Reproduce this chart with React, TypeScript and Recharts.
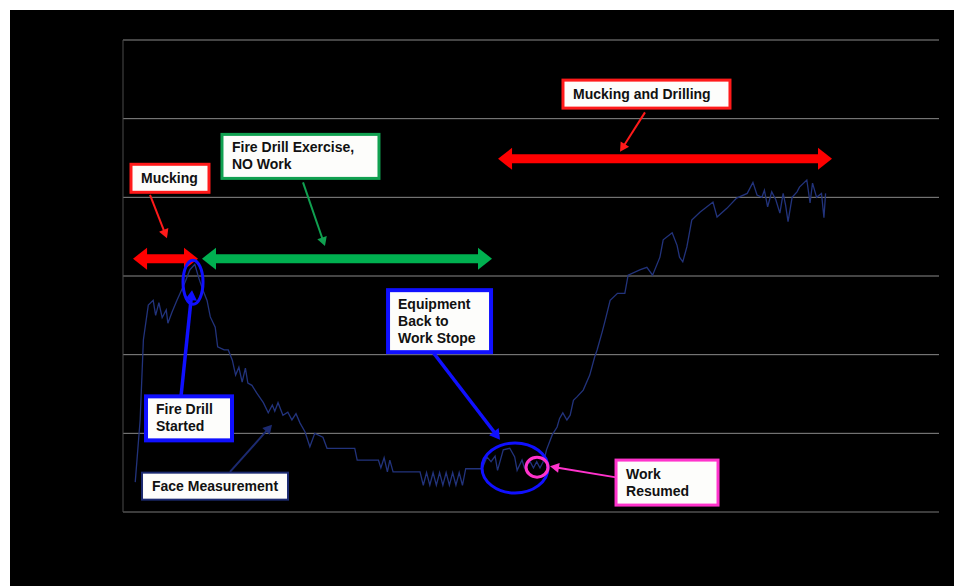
import { LineChart, Line, XAxis, YAxis, CartesianGrid, ReferenceLine, ReferenceDot } from 'recharts'

// time (arbitrary units 0-100) and reading (arbitrary 0-6)
const times = [
  1.5, 2.1, 2.5, 3.1, 3.7, 4.0, 4.4, 4.8, 5.3, 5.5, 6.0, 6.6, 7.0, 7.6, 8.2, 8.8, 9.3, 9.8, 10.3, 10.7,
  11.3, 11.6, 12.4, 12.9, 13.4, 13.8, 14.2, 14.6, 15.0, 15.3, 15.8, 16.4, 17.2, 17.8, 18.3, 18.6, 19.0, 19.6,
  20.2, 20.7, 21.2, 21.7, 22.3, 22.9, 23.5, 24.5, 25.0, 28.4, 28.7, 31.3, 31.6, 32.0, 32.4, 32.7, 33.1, 36.4,
  36.8, 37.2, 37.6, 38.0, 38.4, 38.8, 39.2, 39.6, 40.0, 40.4, 40.8, 41.2, 41.6, 42.0, 44.0,
  44.6, 45.1, 45.6, 45.9, 46.6, 47.4, 48.0, 48.3, 48.9, 49.2, 49.9, 50.3, 50.7, 51.1, 51.6, 51.9, 52.6, 53.2,
  53.5, 53.9, 54.4, 54.8, 55.2, 55.6, 56.4, 57.2, 57.8, 58.1, 58.7, 59.1, 59.7, 60.6, 61.5, 61.9, 63.4, 64.2,
  64.9, 65.8, 66.2, 67.3, 67.9, 68.2, 68.6, 69.1, 69.7, 70.7, 72.3, 72.8, 74.0, 75.2, 76.5, 77.2, 77.7, 78.3,
  78.6, 79.0, 79.5, 80.0, 80.5, 80.9, 81.2, 81.5, 82.0, 82.6, 82.9, 83.8, 84.2, 84.5, 85.0, 85.6, 85.9, 86.1,
]
const readings = [
  0.38, 1.17, 2.19, 2.63, 2.69, 2.5, 2.66, 2.47, 2.57, 2.4, 2.54, 2.69, 2.78, 2.92, 3.08, 3.15, 2.97, 2.82, 2.69, 2.48,
  2.35, 2.1, 2.06, 2.06, 1.93, 1.74, 1.84, 1.65, 1.83, 1.64, 1.61, 1.51, 1.39, 1.26, 1.36, 1.28, 1.39, 1.23,
  1.27, 1.17, 1.25, 1.13, 1.02, 0.83, 1.0, 0.95, 0.81, 0.81, 0.66, 0.66, 0.56, 0.69, 0.51, 0.66, 0.51, 0.51,
  0.34, 0.5, 0.34, 0.5, 0.34, 0.5, 0.34, 0.5, 0.34, 0.5, 0.34, 0.5, 0.34, 0.55, 0.55,
  0.7, 0.64, 0.71, 0.53, 0.79, 0.81, 0.7, 0.53, 0.66, 0.56, 0.64, 0.56, 0.64, 0.56, 0.66, 0.79, 0.98, 1.08,
  1.19, 1.26, 1.17, 1.23, 1.42, 1.46, 1.55, 1.74, 1.97, 2.06, 2.28, 2.44, 2.69, 2.78, 2.78, 3.01, 3.08, 3.11,
  3.01, 3.24, 3.46, 3.55, 3.39, 3.24, 3.18, 3.37, 3.71, 3.81, 3.94, 3.75, 3.86, 3.99, 4.05, 4.19, 4.03, 4.0,
  4.09, 3.88, 4.07, 3.97, 3.8, 4.05, 3.9, 3.69, 4.0, 4.07, 4.13, 4.22, 3.93, 4.18, 4.0, 4.05, 3.74, 4.05,
]
const yTicks = [0, 1, 2, 3, 4, 5, 6]

const data = times.map((t, i) => ({ t, v: readings[i] }))

// annotations, anchored in data units
const boxes = [
  { x: 0.98, y: 4.42, w: 78, h: 28, color: '#ff1a1a', bw: 3, lines: ['Mucking'] },
  { x: 12.13, y: 4.8, w: 157, h: 44, color: '#10a050', bw: 3, lines: ['Fire Drill Exercise,', 'NO Work'] },
  { x: 53.92, y: 5.49, w: 167, h: 28, color: '#ff1a1a', bw: 3, lines: ['Mucking and Drilling'] },
  { x: 32.48, y: 2.82, w: 103, h: 62, color: '#1010ff', bw: 4, lines: ['Equipment', 'Back to', 'Work Stope'] },
  { x: 2.82, y: 1.47, w: 86, h: 44, color: '#1010ff', bw: 4, lines: ['Fire Drill', 'Started'] },
  { x: 2.33, y: 0.5, w: 146, h: 27, color: '#1c2a70', bw: 2, lines: ['Face Measurement'] },
  { x: 60.42, y: 0.66, w: 102, h: 45, color: '#ff33cc', bw: 3, lines: ['Work', 'Resumed'] },
]

const arrows = [
  { from: [1.23, 3.22], to: [9.19, 3.22], color: '#ff0000', width: 9, hl: 14, hw: 11, double: true },
  { from: [9.68, 3.22], to: [45.22, 3.22], color: '#00b050', width: 9, hl: 14, hw: 11, double: true },
  { from: [45.96, 4.49], to: [86.89, 4.49], color: '#ff0000', width: 9, hl: 14, hw: 11, double: true },
  { from: [3.31, 4.03], to: [5.39, 3.48], color: '#ff1a1a', width: 2, hl: 9, hw: 5, double: false },
  { from: [22.06, 4.19], to: [24.75, 3.38], color: '#10a050', width: 2, hl: 9, hw: 5, double: false },
  { from: [63.97, 5.08], to: [60.91, 4.58], color: '#ff1a1a', width: 2, hl: 9, hw: 5, double: false },
  { from: [7.11, 1.47], to: [8.46, 2.82], color: '#1010ff', width: 3.5, hl: 10, hw: 6, double: false },
  { from: [13.11, 0.51], to: [18.26, 1.11], color: '#1c2a70', width: 2, hl: 9, hw: 5, double: false },
  { from: [37.99, 2.03], to: [46.2, 0.92], color: '#1010ff', width: 3.5, hl: 10, hw: 6, double: false },
  { from: [60.42, 0.44], to: [52.33, 0.58], color: '#ff33cc', width: 2, hl: 9, hw: 5, double: false },
]

const ellipses = [
  { x: 8.58, y: 2.92, rx: 10, ry: 22, color: '#1010ff' },
  { x: 48.04, y: 0.56, rx: 33, ry: 25, color: '#1010ff' },
  { x: 50.74, y: 0.57, rx: 11, ry: 10, color: '#ff33cc' },
]

const font = '"Liberation Sans", Arial, sans-serif'

const makeBox = (b: (typeof boxes)[number]) => (props: any) => {
  const { cx, cy } = props
  const lh = 17
  const first = (b.h - b.lines.length * lh) / 2 + 13
  return (
    <g>
      <rect x={cx} y={cy} width={b.w} height={b.h} fill="#fdfdfb" stroke={b.color} strokeWidth={b.bw} />
      <text fontFamily={font} fontWeight="bold" fontSize={14} fill="#111">
        {b.lines.map((l, i) => (
          <tspan key={i} x={cx + 10} y={cy + first + i * lh}>
            {l}
          </tspan>
        ))}
      </text>
    </g>
  )
}

const makeArrow = (a: (typeof arrows)[number]) => (props: any) => {
  const { x1, y1, x2, y2 } = props
  const dx = x2 - x1
  const dy = y2 - y1
  const len = Math.hypot(dx, dy) || 1
  const ux = dx / len
  const uy = dy / len
  const nx = -uy
  const ny = ux
  const head = (tx: number, ty: number, dx2: number, dy2: number) => {
    const bx = tx - dx2 * a.hl
    const by = ty - dy2 * a.hl
    return `${tx},${ty} ${bx + nx * a.hw},${by + ny * a.hw} ${bx - nx * a.hw},${by - ny * a.hw}`
  }
  const sx = a.double ? x1 + ux * (a.hl - 1) : x1
  const sy = a.double ? y1 + uy * (a.hl - 1) : y1
  return (
    <g>
      <line x1={sx} y1={sy} x2={x2 - ux * (a.hl - 1)} y2={y2 - uy * (a.hl - 1)} stroke={a.color} strokeWidth={a.width} />
      <polygon points={head(x2, y2, ux, uy)} fill={a.color} />
      {a.double && <polygon points={head(x1, y1, -ux, -uy)} fill={a.color} />}
    </g>
  )
}

const makeEllipse = (e: (typeof ellipses)[number]) => (props: any) => (
  <ellipse cx={props.cx} cy={props.cy} rx={e.rx} ry={e.ry} fill="none" stroke={e.color} strokeWidth={3} />
)

export default function App() {
  return (
    <div style={{ padding: '10px 0 0 10px' }}>
      <style>{'body{margin:0;overflow:hidden;background:#fff}'}</style>
      <div style={{ width: 944, height: 576, background: '#000' }}>
        <LineChart width={944} height={576} data={data} margin={{ top: 30, right: 15, left: 113, bottom: 74 }}>
          <CartesianGrid vertical={false} stroke="#8a8a8a" />
          <XAxis dataKey="t" type="number" domain={[0, 100]} hide />
          <YAxis domain={[0, 6]} ticks={yTicks} hide />
          <ReferenceLine y={0} stroke="#3c3c3c" strokeWidth={2} />
          <ReferenceLine x={0} stroke="#4a4a4a" />
          <Line
            type="linear"
            dataKey="v"
            stroke="#22337c"
            strokeWidth={1.3}
            dot={false}
            isAnimationActive={false}
          />
          {ellipses.map((e, i) => (
            <ReferenceDot key={'e' + i} x={e.x} y={e.y} r={1} shape={makeEllipse(e)} />
          ))}
          {arrows.map((a, i) => (
            <ReferenceLine
              key={'a' + i}
              segment={[
                { x: a.from[0], y: a.from[1] },
                { x: a.to[0], y: a.to[1] },
              ]}
              shape={makeArrow(a)}
            />
          ))}
          {boxes.map((b, i) => (
            <ReferenceDot key={'b' + i} x={b.x} y={b.y} r={1} shape={makeBox(b)} />
          ))}
        </LineChart>
      </div>
    </div>
  )
}
